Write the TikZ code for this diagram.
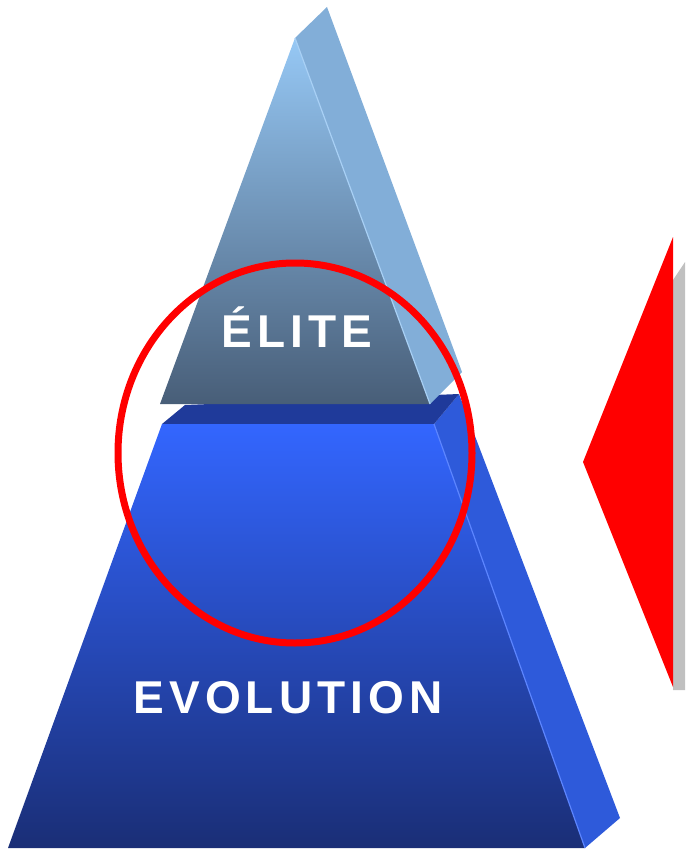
\documentclass[tikz,border=0pt]{standalone}
\usepackage{fontspec}
\newfontfamily\tierfont{Liberation Sans}[LetterSpace=11]
\usetikzlibrary{positioning}
\definecolor{eliteTop}{RGB}{150,200,245}
\definecolor{eliteMid}{RGB}{124,164,208}
\definecolor{eliteBot}{RGB}{72,94,120}
\definecolor{eliteSide}{RGB}{130,174,216}
\definecolor{eliteRidge}{RGB}{168,208,245}
\definecolor{evoTop}{RGB}{51,102,255}
\definecolor{evoMid}{RGB}{46,88,218}
\definecolor{evoBot}{RGB}{26,46,118}
\definecolor{evoSide}{RGB}{46,90,218}
\definecolor{evoBand}{RGB}{31,58,154}
\definecolor{shadowGray}{RGB}{192,192,192}
\tikzset{
    face/.style={draw=none},
    ridge/.style={line width=1.2pt},
    ring/.style={draw=red, line width=7pt},
    tierlabel/.style={text=white, font=\tierfont\bfseries\fontsize{46}{46}\selectfont, inner sep=0pt}
}

\begin{document}
\begin{tikzpicture}[x=1pt, y=-1pt]
    \useasboundingbox (0,0) rectangle (685,850);

    % Lower tier: evolution
    \fill[evoSide] (434,424) -- (459,394) -- (620,818) -- (585,848) -- cycle;
    \fill[evoBand] (162,424) -- (185,405) -- (459,394) -- (434,424) -- cycle;
    \shade[face, top color=evoTop, middle color=evoMid, bottom color=evoBot]
        (162,424) -- (434,424) -- (585,848) -- (8,848) -- cycle;
    \draw[ridge, color=evoTop!80!white] (434,424) -- (585,848);

    % Upper tier: elite
    \fill[eliteSide] (295,38) -- (327,7) -- (462,372) -- (430,404) -- cycle;
    \shade[face, top color=eliteTop, middle color=eliteMid, bottom color=eliteBot]
        (295,38) -- (430,404) -- (160,404) -- cycle;
    \draw[ridge, color=eliteRidge] (295,38) -- (430,404);

    % Labels
    \node[tierlabel] (elite) at (297,327) {ÉLITE};
    \node[tierlabel] (evolution) at (288,698) {EVOLUTION};

    % Highlight ring
    \draw[ring] (295,453) ellipse [x radius=177, y radius=190];

    % Pointer on the right
    \fill[shadowGray] (673,280) -- (685,262) -- (685,690) -- (673,690) -- cycle;
    \fill[red] (673,237) -- (583,462) -- (673,687) -- cycle;

\end{tikzpicture}
\end{document}
